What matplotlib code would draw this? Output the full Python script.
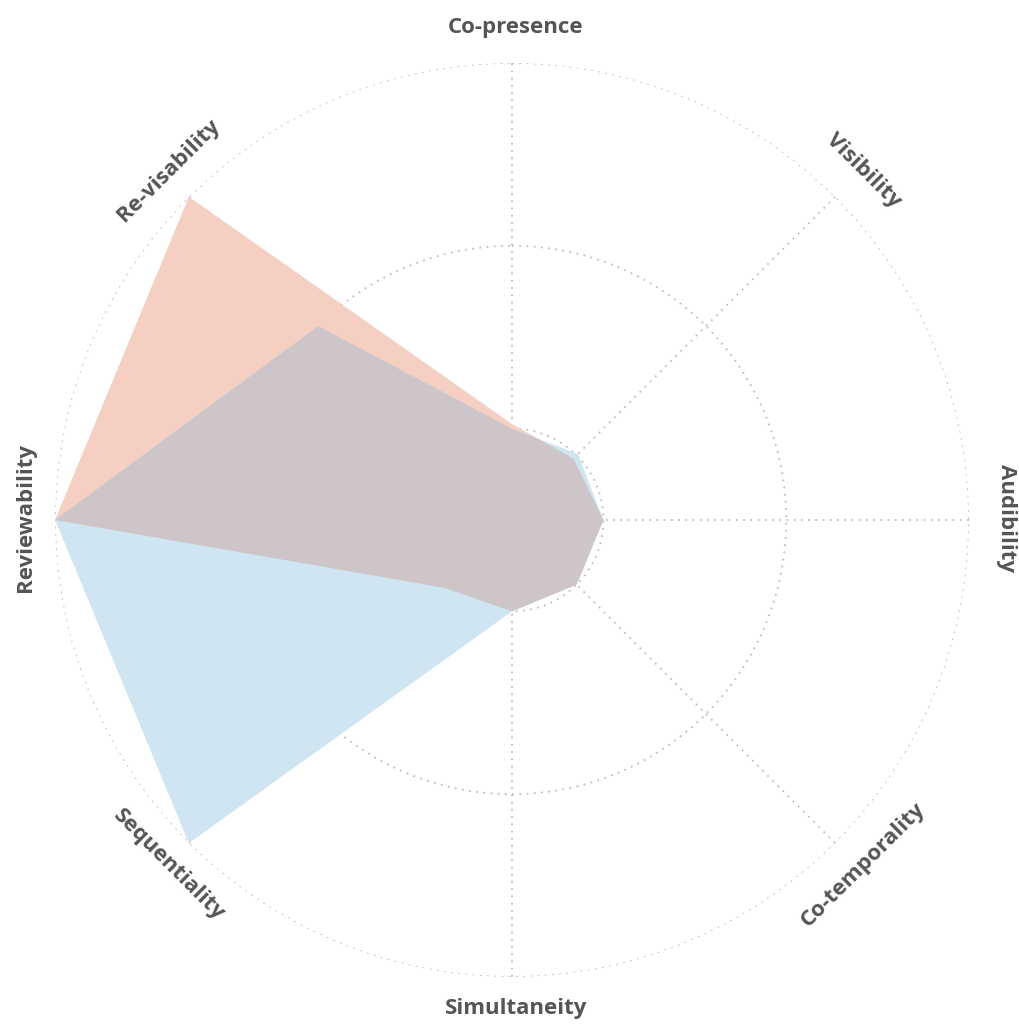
import numpy as np
import matplotlib.pyplot as plt
import matplotlib.transforms as mtransforms

# axes, clockwise from the top
labels = ['Co-presence', 'Visibility', 'Audibility', 'Co-temporality',
          'Simultaneity', 'Sequentiality', 'Reviewability', 'Re-visability']

# values (rings at 1, 3, 5)
orange_vals = [1.05, 0.95, 1.0, 1.0, 1.0, 1.05, 5.0, 5.0]
blue_vals   = [1.0, 1.02, 1.0, 1.0, 1.0, 5.0, 5.0, 3.0]

ring_ticks = [1, 3, 5]

orange_col  = '#f5cfc1'
blue_col    = '#cfe6f2'
overlap_col = '#cdc5c7'
grid_col    = '#bdbdbd'
text_col    = '#555555'

n = len(labels)
angles = np.arange(n) * 2 * np.pi / n

fig = plt.figure(figsize=(10.19, 10.31), dpi=100)
ax = fig.add_axes([0.054, 0.0524, 0.897, 0.8865], polar=True)
ax.set_theta_zero_location('N')
ax.set_theta_direction(-1)
ax.set_ylim(0, 5)

# polygons, overlap drawn as blue clipped to orange
orange = ax.fill(angles, orange_vals, color=orange_col, lw=0, zorder=2)[0]
blue = ax.fill(angles, blue_vals, color=blue_col, lw=0, zorder=3)[0]
over = ax.fill(angles, blue_vals, color=overlap_col, lw=0, zorder=4)[0]
over.set_clip_path(orange)

# grid
ax.set_yticks(ring_ticks)
ax.set_yticklabels([])
ax.set_xticks(angles)
ax.set_xticklabels([])
ax.grid(True, color=grid_col, linestyle=(0, (1, 3)), linewidth=1.3)
for gl in ax.yaxis.get_gridlines() + ax.xaxis.get_gridlines():
    gl.set_zorder(5)
ax.spines['polar'].set_visible(False)

# labels, tangential to the circle (slightly shifted right like the original)
shift = ax.transData + mtransforms.ScaledTranslation(4 / 100, 2 / 100, fig.dpi_scale_trans)
for ang, lab in zip(angles, labels):
    deg = np.degrees(ang)
    rot = -deg
    if deg > 90:
        while rot <= -90:
            rot += 180
    ax.text(ang, 5.37, lab, rotation=rot, ha='center', va='center',
            fontsize=16, fontweight='bold', transform=shift,
            family=['Open Sans', 'DejaVu Sans'], color=text_col)

fig.savefig('out.png', dpi=100, facecolor='white')
